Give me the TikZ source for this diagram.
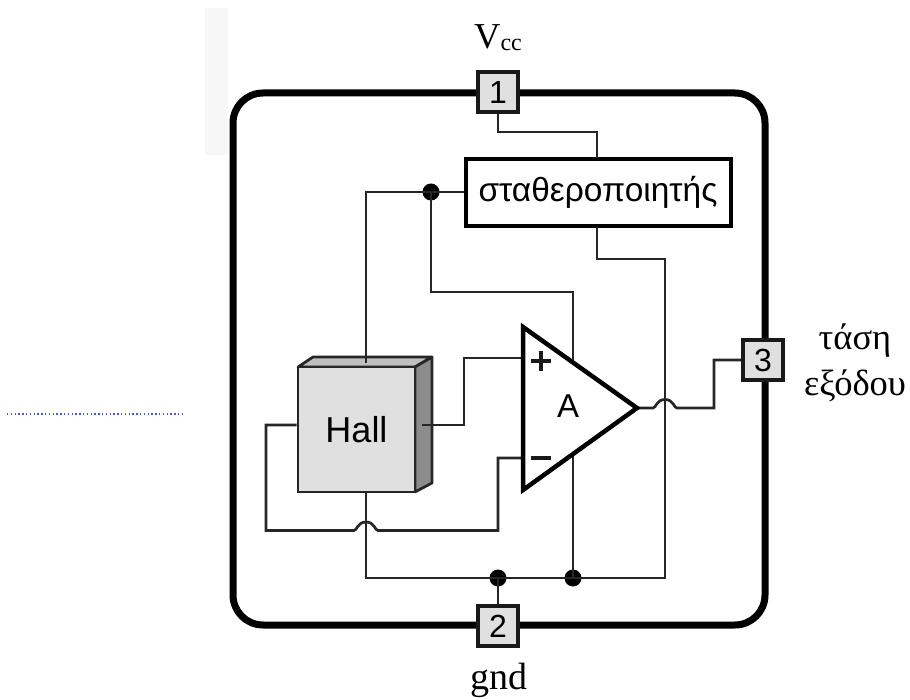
\documentclass[tikz,border=0pt]{standalone}
\usepackage{fontspec}
\setmainfont{Liberation Sans}
\newfontfamily\serifgr{Liberation Serif}
\definecolor{pinfill}{gray}{0.88}
\definecolor{sidefill}{gray}{0.55}
\definecolor{wirecol}{gray}{0.15}
\definecolor{dotblue}{RGB}{70,95,190}
\tikzset{
 wire/.style={draw=wirecol,line width=2.7pt,line join=miter},
 pinbox/.style={draw=black!90,line width=4pt,fill=pinfill,minimum size=40pt,inner sep=0pt,font=\fontsize{32}{32}\selectfont},
 junction/.style={circle,fill=black,minimum size=17pt,inner sep=0pt},
 serifl/.style={font=\serifgr\fontsize{36.5}{46}\selectfont,align=center,inner sep=0pt},
}
\begin{document}
\begin{tikzpicture}[x=1pt,y=-1pt]
\useasboundingbox (0,0) rectangle (910,700);
% faint scan marks and dotted line
\fill[black!3] (205,8) rectangle (228,155);
\draw[dotblue,line width=1.3pt,dash pattern=on 1.3pt off 2.5pt] (7,414) -- (183,414);
% outer frame
\draw[black,line width=7pt,rounded corners=30pt] (233,93) rectangle (765,625);
% named nodes
\node[pinbox] (p1) at (498,92) {1};
\node[pinbox] (p2) at (498,626) {2};
\node[pinbox] (p3) at (763,360) {3};
\node[draw=black,line width=4pt,fill=white,minimum width=265pt,minimum height=67pt,inner sep=0pt,font=\fontsize{33.5}{33.5}\selectfont] (reg) at (598,192.5) {σταθεροποιητής};
% Hall block
\fill[pinfill!60!sidefill,draw=wirecol,line width=2.7pt,line join=round] (298,367) -- (313,357) -- (432,357) -- (415,367) -- cycle;
\fill[sidefill,draw=wirecol,line width=2.7pt,line join=round] (415,367) -- (432,357) -- (432,483) -- (415,492) -- cycle;
\node[draw=wirecol,line width=2.7pt,fill=pinfill,minimum width=117pt,minimum height=125pt,inner sep=0pt,font=\fontsize{36}{36}\selectfont] (hall) at (356.5,429.5) {Hall};
% junctions
\node[junction] (j1) at (431,192) {};
\node[junction] (j2) at (498,578) {};
\node[junction] (j3) at (573,578) {};
% coordinates on the amp
\coordinate (ampin1) at (523,358);
\coordinate (ampin2) at (523,458);
\coordinate (amptip) at (637,408);
% wires
\draw[wire] (p1.south) -- (498,132) -- (597,132) -- (597,158);
\draw[wire] (reg.west |- 0,192) -- (j1.center) -- (366,192) -- (366,363);
\draw[wire] (j1.center) -- (431,292) -- (573,292) -- (j3.center);
\draw[wire] (597,227) -- (597,259) -- (665,259) -- (665,578) -- (j3.center) -- (j2.center) -- (366,578) -- (366,492);
\draw[wire] (j2.center) -- (p2.north);
\draw[wire] (422,425) -- (464,425) -- (464,358) -- (ampin1);
\draw[wire] (hall.west |- 0,425) -- (266,425) -- (266,530.5) -- (354,530.5)
  .. controls (357,530.5) and (357.5,522) .. (366,522)
  .. controls (374.5,522) and (375,530.5) .. (378,530.5)
  -- (498,530.5) -- (498,458) -- (ampin2);
\draw[wire] (amptip) -- (653,408)
  .. controls (656,408) and (656.5,399.5) .. (665,399.5)
  .. controls (673.5,399.5) and (674,408) .. (677,408)
  -- (714,408) -- (714,360) -- (p3.west);
% amplifier
\draw[black,line width=4.5pt,line join=miter,fill=white] (523,327) -- (amptip) -- (523,490) -- cycle;
\node[inner sep=0pt,font=\fontsize{33}{33}\selectfont] (lblA) at (568,406) {A};
\draw[black!90,line width=4pt] (531,361) -- (551,361) (541,351) -- (541,371);
\draw[black!90,line width=4pt] (531,458) -- (551,458);
% labels
\node[serifl,anchor=base] (vcc) at (498,49) {V\raisebox{-0.1ex}{\fontsize{24}{24}\selectfont cc}};
\node[serifl] (gnd) at (499,680) {\fontsize{38}{38}\selectfont gnd};
\node[serifl] (out) at (855,363) {τάση\\εξόδου};
\end{tikzpicture}
\end{document}
